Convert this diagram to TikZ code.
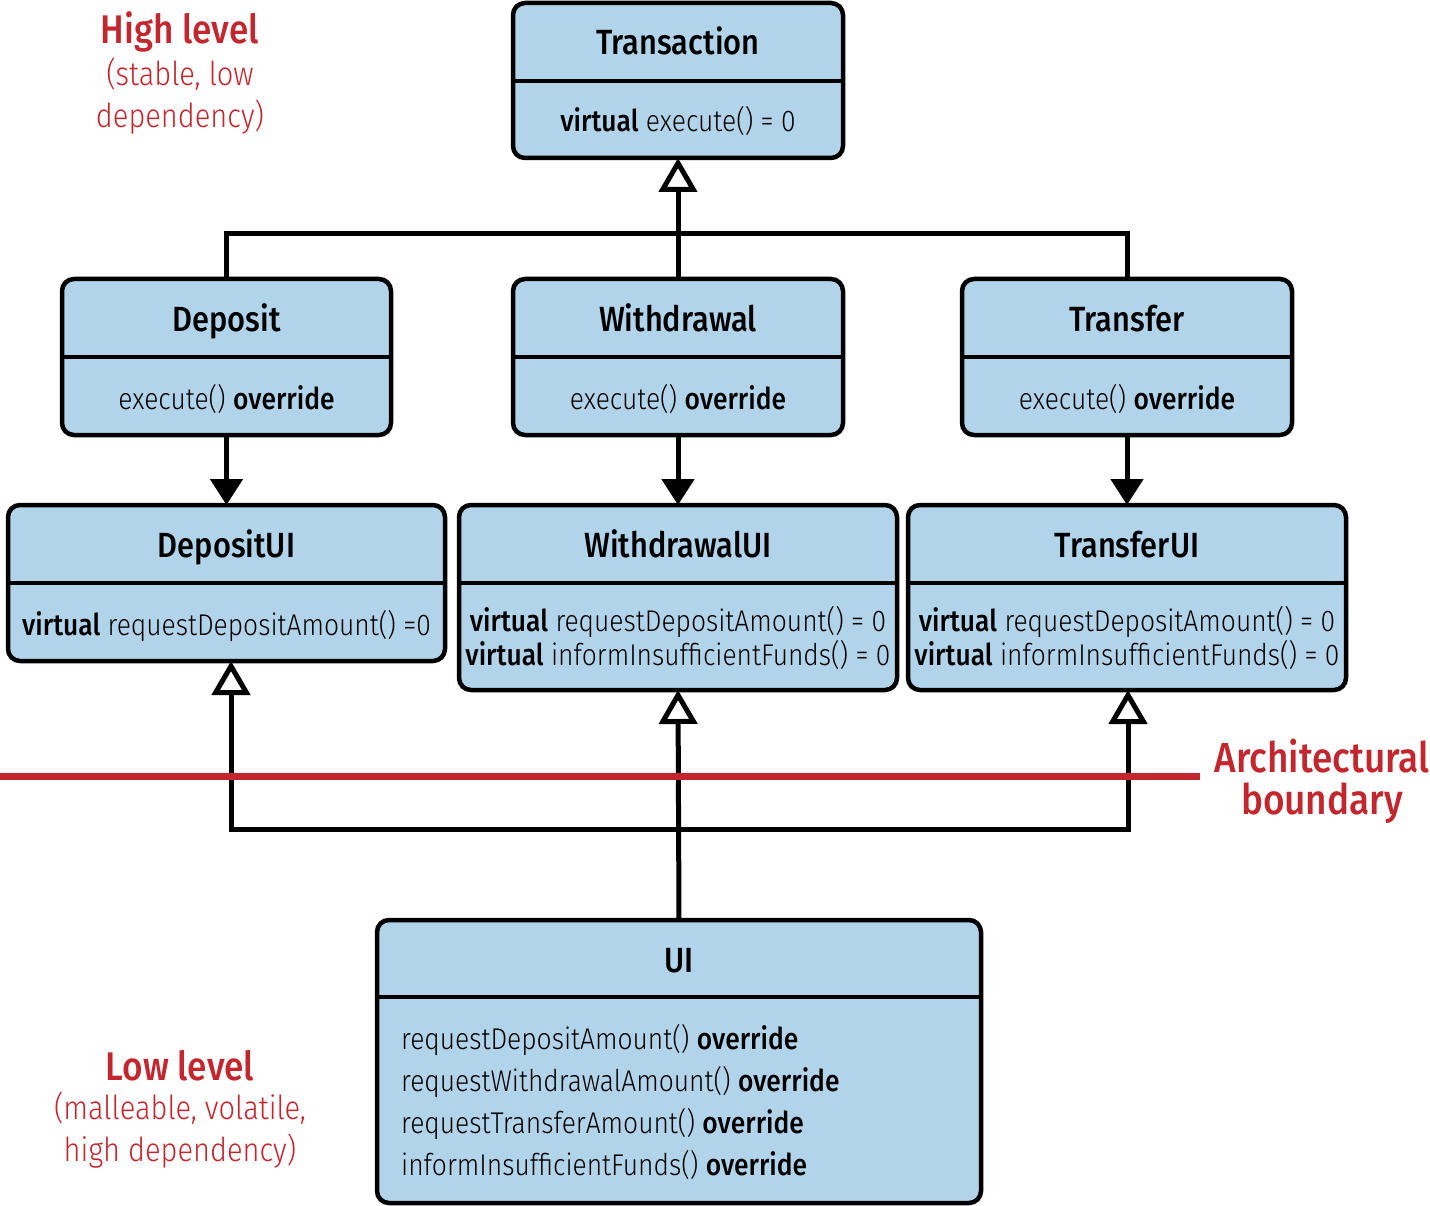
\documentclass[tikz,border=0pt]{standalone}
\usepackage{fontspec}
\setmainfont{Fira Sans}[FakeStretch=0.88, UprightFont={Fira Sans Light}, BoldFont={Fira Sans Medium}]
\usetikzlibrary{arrows.meta,calc}
\definecolor{boxblue}{HTML}{B2D4EA}
\definecolor{accred}{HTML}{C4262E}
\tikzset{
  umlbox/.style={draw=black, line width=4.5pt, fill=boxblue, rounded corners=12pt, anchor=north west, inner sep=0pt, outer sep=0pt},
  divline/.style={line width=4pt},
  ttl/.style={font=\fontsize{35}{40}\selectfont\bfseries, inner sep=0pt, anchor=base},
  bdy/.style={font=\fontsize{30}{34}\selectfont, inner sep=0pt, align=center, anchor=base},
  conn/.style={line width=5pt},
  inh/.style={conn, -{Triangle[open, length=34pt, width=38pt, line width=5pt]}},
  dep/.style={conn, -{Triangle[length=26pt, width=32pt]}},
  redtitle/.style={text=accred, font=\fontsize{40}{44}\selectfont\bfseries, inner sep=0pt},
  redsub/.style={text=accred, font=\fontsize{33}{42}\selectfont, inner sep=0pt, align=center},
  redbig/.style={text=accred, font=\fontsize{42}{42}\selectfont\bfseries, inner sep=0pt, align=center},
}
% \myumlbox{name}{x1}{y1}{x2}{y2}{ydiv}{title}{body}{baseline of last body line}
\newcommand\myumlbox[9]{%
  \node[umlbox, minimum width=#4pt-#2pt, minimum height=#5pt-#3pt] (#1) at (#2,#3) {};
  \draw[divline] (#2,#6) -- (#4,#6);
  \node[ttl] (#1-t) at ({(#2+#4)/2},{(#3+#6)/2+13}) {#7};
  \node[bdy] (#1-b) at ({(#2+#4)/2},#9) {#8};
}
\begin{document}
\begin{tikzpicture}[x=1pt,y=-1pt]
\useasboundingbox (0,0) rectangle (1430,1206);

\myumlbox{trans}{513}{3}{843}{158}{81}{Transaction}{\textbf{virtual} execute() = 0}{132}
\myumlbox{dep}{62}{279}{391}{435}{357}{Deposit}{execute() \textbf{override}}{409}
\myumlbox{wd}{513}{279}{843}{435}{357}{Withdrawal}{execute() \textbf{override}}{409}
\myumlbox{tf}{962}{279}{1292}{435}{357}{Transfer}{execute() \textbf{override}}{409}
\myumlbox{dui}{8}{505}{445}{661}{583}{DepositUI}{\textbf{virtual} requestDepositAmount() =0}{635}
\myumlbox{wui}{459}{505}{897}{690}{583}{WithdrawalUI}{\textbf{virtual} requestDepositAmount() = 0\\\textbf{virtual} informInsufficientFunds() = 0}{665}
\myumlbox{tui}{908}{505}{1346}{690}{583}{TransferUI}{\textbf{virtual} requestDepositAmount() = 0\\\textbf{virtual} informInsufficientFunds() = 0}{665}

\node[umlbox, minimum width=604pt, minimum height=283pt] (ui) at (377,920) {};
\draw[divline] (377,997) -- (981,997);
\node[ttl] (ui-t) at (679,972) {UI};
\node[bdy, anchor=base west, align=left, font=\fontsize{30}{41.7}\selectfont] (ui-b) at (401,1175) {%
requestDepositAmount() \textbf{override}\\
requestWithdrawalAmount() \textbf{override}\\
requestTransferAmount() \textbf{override}\\
informInsufficientFunds() \textbf{override}};

% inheritance to Transaction
\coordinate (jt) at (679,234);
\draw[conn] (dep.north) |- (jt);
\draw[conn] (tf.north) |- (jt);
\draw[inh] (wd.north) -- (trans.south);

% dependencies
\draw[dep] (dep.south) -- (dui.north -| dep.south);
\draw[dep] (wd.south) -- (wui.north);
\draw[dep] (tf.south) -- (tui.north -| tf.south);

% UI implements
\coordinate (jb) at (679,829);
\coordinate (duia) at (231,661);
\coordinate (tuia) at (1128,690);
\draw[inh] (jb) -| (duia);
\draw[inh] (jb) -| (tuia);
\draw[inh] (ui.north) -- (wui.south);

% architectural boundary
\draw[accred, line width=7pt] (0,776) -- (1200,776);
\node[redbig] (arch) at (1322,781) {Architectural\\boundary};

% level labels
\node[redtitle] (hl) at (180,32) {High level};
\node[redsub] (hls) at (180,96) {(stable, low\\dependency)};
\node[redtitle] (ll) at (180,1066) {Low level};
\node[redsub] (lls) at (180,1130) {(malleable, volatile,\\high dependency)};
\end{tikzpicture}
\end{document}
